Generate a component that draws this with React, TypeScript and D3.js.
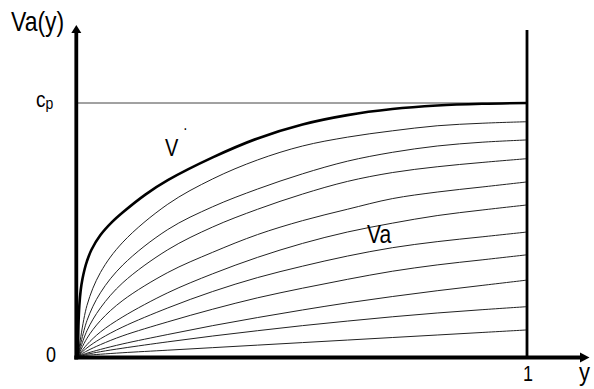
import React from "react";
import * as d3 from "d3";

const W = 594;
const H = 389;

// Sample points along y for the family of Va curves
const tGrid = [0, 0.02, 0.05, 0.1, 0.2, 0.3, 0.4, 0.5, 0.6, 0.7, 0.8, 0.9, 1.0];

// Upper envelope V* (its own, denser grid near the origin)
const vStarT = [0, 0.001, 0.003, 0.006, 0.01, 0.015, 0.02, 0.03, 0.05, 0.075, 0.1, 0.15, 0.2, 0.3, 0.4, 0.5, 0.6, 0.7, 0.8, 0.9, 1.0];
const vStar = [0, 0.12, 0.2, 0.26, 0.305, 0.345, 0.375, 0.42, 0.478, 0.528, 0.568, 0.638, 0.695, 0.785, 0.86, 0.915, 0.952, 0.976, 0.99, 0.997, 1.0];

// Va curves, top to bottom (values as a fraction of cp)
const va1 = [0, 0.2, 0.33, 0.45, 0.6, 0.7, 0.775, 0.83, 0.865, 0.89, 0.91, 0.92, 0.926];
const va2 = [0, 0.14, 0.25, 0.36, 0.5, 0.59, 0.66, 0.72, 0.77, 0.805, 0.83, 0.845, 0.854];
const va3 = [0, 0.1, 0.19, 0.29, 0.42, 0.51, 0.58, 0.64, 0.69, 0.725, 0.748, 0.765, 0.78];
const va4 = [0, 0.07, 0.14, 0.22, 0.33, 0.41, 0.48, 0.535, 0.58, 0.622, 0.648, 0.668, 0.688];
const va5 = [0, 0.045, 0.095, 0.155, 0.25, 0.325, 0.39, 0.445, 0.49, 0.525, 0.555, 0.577, 0.597];
const va6 = [0, 0.032, 0.068, 0.115, 0.19, 0.255, 0.31, 0.355, 0.395, 0.428, 0.452, 0.471, 0.49];
const va7 = [0, 0.02, 0.045, 0.08, 0.135, 0.185, 0.23, 0.268, 0.303, 0.335, 0.36, 0.38, 0.4];
const va8 = [0, 0.011, 0.026, 0.048, 0.085, 0.12, 0.152, 0.182, 0.21, 0.235, 0.258, 0.279, 0.3];
const va9 = [0, 0.007, 0.017, 0.031, 0.056, 0.079, 0.1, 0.12, 0.138, 0.155, 0.17, 0.183, 0.195];
const va10 = [0, 0.003, 0.007, 0.013, 0.023, 0.033, 0.043, 0.053, 0.063, 0.073, 0.083, 0.093, 0.103];
const vaSeries = [va1, va2, va3, va4, va5, va6, va7, va8, va9, va10];

// Texts
const yAxisTitle = "Va(y)";
const xAxisTitle = "y";
const xTickLabels = ["0", "1"];
const cpMain = "c";
const cpSub = "p";
const vStarLabel = "V";
const vStarMark = "·";
const vaLabel = "Va";

const FONT = "'Liberation Sans', Arial, Helvetica, sans-serif";

export default function App() {
  const x = d3.scaleLinear().domain([0, 1]).range([78, 527]);
  const y = d3.scaleLinear().domain([0, 1]).range([356, 103]);

  const line = d3
    .line<[number, number]>()
    .x((d) => x(d[0]))
    .y((d) => y(d[1]))
    .curve(d3.curveCatmullRom.alpha(0.5));

  const starPath = line(vStarT.map((t, i) => [t, vStar[i]] as [number, number])) || "";
  const vaPaths = vaSeries.map(
    (s) => line(tGrid.map((t, i) => [t, s[i]] as [number, number])) || ""
  );

  const x0 = x(0);
  const x1 = x(1);
  const yBase = y(0);
  const axisY = yBase + 1.5;
  const axisX = x0 - 1.7;

  // text drawn slightly taller than wide
  const sText = (
    px: number,
    py: number,
    size: number,
    content: React.ReactNode,
    anchor: string = "start"
  ) => (
    <text
      transform={`translate(${px},${py}) scale(1,1.2)`}
      fontFamily={FONT}
      fontSize={size}
      textAnchor={anchor}
      fill="#000"
    >
      {content}
    </text>
  );

  return (
    <svg
      width={W}
      height={H}
      style={{ position: "absolute", left: 0, top: 0, background: "#fff" }}
    >
      <rect x={0} y={0} width={W} height={H} fill="#fff" />

      {/* cp level */}
      <line x1={x0} x2={x1} y1={y(1)} y2={y(1)} stroke="#444" strokeWidth={1} />

      {/* Va family */}
      {vaPaths.map((d, i) => (
        <path key={i} d={d} fill="none" stroke="#222" strokeWidth={1} />
      ))}

      {/* V* envelope */}
      <path d={starPath} fill="none" stroke="#000" strokeWidth={2.6} />

      {/* vertical line at y = 1 */}
      <line x1={x1} x2={x1} y1={30} y2={axisY} stroke="#000" strokeWidth={2.8} />

      {/* axes */}
      <line x1={axisX} x2={axisX} y1={axisY + 2} y2={31} stroke="#000" strokeWidth={3.8} />
      <path d={`M${axisX},25 L${axisX + 5},33 L${axisX - 5},33 Z`} fill="#000" />
      <line x1={axisX - 2} x2={582} y1={axisY} y2={axisY} stroke="#000" strokeWidth={3.8} />
      <path d={`M589.5,${axisY} L580,${axisY - 5} L580,${axisY + 5} Z`} fill="#000" />

      {/* labels */}
      {sText(11, 31, 23, yAxisTitle)}
      {sText(
        36,
        107,
        19,
        <>
          {cpMain}
          <tspan fontSize={14} dy={1.5}>
            {cpSub}
          </tspan>
        </>
      )}
      {sText(46, 362, 18, xTickLabels[0])}
      {sText(x1 + 1, 381, 18, xTickLabels[1], "middle")}
      {sText(579, 381, 22, xAxisTitle)}
      {sText(165, 156, 20, vStarLabel)}
      {sText(183, 134, 14, vStarMark)}
      {sText(367, 243, 21, vaLabel)}
    </svg>
  );
}
